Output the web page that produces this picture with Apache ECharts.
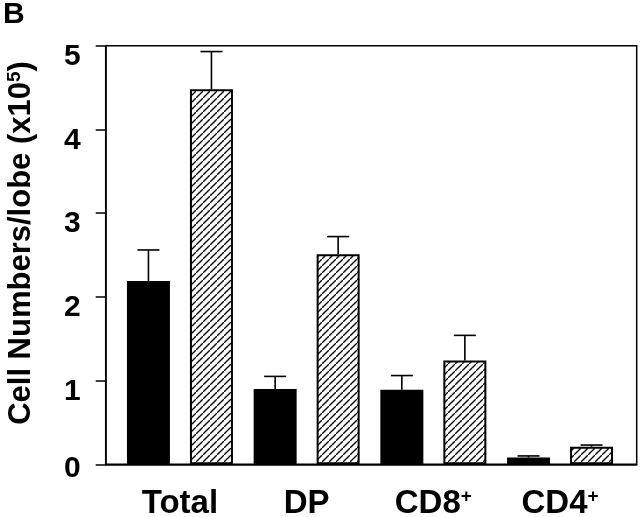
<!DOCTYPE html>
<html><head><meta charset="utf-8">
<script src="https://cdn.jsdelivr.net/npm/echarts@6/dist/echarts.min.js"></script>
<style>html,body{margin:0;padding:0;background:#fff}#c{width:640px;height:517px}</style>
</head><body><div id="c"></div>
<script>
const categories = ['Total', 'DP', 'CD8{sup|+}', 'CD4{sup|+}'];
const catPos = [0, 1, 2, 3];
const blackMean = [2.19, 0.90, 0.89, 0.08];
const blackErr = [0.37, 0.15, 0.17, 0.02];
const hatchMean = [4.48, 2.51, 1.24, 0.21];
const hatchErr = [0.45, 0.21, 0.30, 0.02];
const yTicks = [0, 1, 2, 3, 4, 5];

const BAR_W = 43, GAP = 20, CAP = 22;
const FONT = '"Liberation Sans", Arial, Helvetica, sans-serif';

function makeHatch() {
  const s = 7;
  const c = document.createElement('canvas');
  c.width = s; c.height = s;
  const g = c.getContext('2d');
  g.fillStyle = '#fff'; g.fillRect(0, 0, s, s);
  g.strokeStyle = '#000'; g.lineWidth = 1.3;
  g.beginPath();
  g.moveTo(-1, s + 1); g.lineTo(s + 1, -1);
  g.stroke();
  return c;
}

const chart = echarts.init(document.getElementById('c'), null, {renderer: 'canvas'});

function errItem(offsetSign) {
  return function (params, api) {
    const x = api.value(0), m = api.value(1), e = api.value(2);
    const base = api.coord([x, m]);
    const top = api.coord([x, m + e]);
    const cx = base[0] + offsetSign * (BAR_W + GAP) / 2;
    const st = {stroke: '#000', lineWidth: 1.6};
    return {
      type: 'group',
      children: [
        {type: 'line', shape: {x1: cx, y1: base[1], x2: cx, y2: top[1]}, style: st},
        {type: 'line', shape: {x1: cx - CAP / 2, y1: top[1], x2: cx + CAP / 2, y2: top[1]}, style: st}
      ]
    };
  };
}

const labelStyle = {fontFamily: FONT, fontWeight: 'bold', fontSize: 30, color: '#000'};

chart.setOption({
  animation: false,
  backgroundColor: '#fff',
  title: {text: 'B', left: 3, top: 0, padding: 0, textStyle: {fontFamily: FONT, fontWeight: 'bold', fontSize: 30, color: '#000'}},
  grid: {left: 105.7, top: 45.7, right: 3.3, bottom: 52.7, outerBoundsMode: 'none', containLabel: false,
         show: true, borderColor: '#000', borderWidth: 1.5, backgroundColor: 'transparent'},
  xAxis: {
    type: 'value', min: -0.586, max: 3.605,
    splitLine: {show: false},
    axisLine: {show: true, onZero: false, lineStyle: {color: '#000', width: 1.5}},
    axisTick: {show: false},
    axisLabel: {
      customValues: catPos,
      formatter: v => categories[Math.round(v)],
      margin: 23, color: '#000', fontFamily: FONT, fontWeight: 'bold', fontSize: 33,
      rich: {sup: {fontFamily: FONT, fontWeight: 'bold', fontSize: 19, color: '#000', padding: [0, 0, 14, 0]}}
    }
  },
  yAxis: {
    type: 'value', min: 0, max: 5, interval: 1,
    splitLine: {show: false},
    axisLine: {show: true, onZero: false, lineStyle: {color: '#000', width: 1.5}},
    axisTick: {show: true, inside: false, length: 10, lineStyle: {color: '#000', width: 1.5}},
    axisLabel: {
      formatter: v => (v === 0 ? '{z|' + v + '}' : '{n|' + v + '}'),
      margin: 25, verticalAlign: 'middle',
      rich: {
        n: Object.assign({padding: [22, 0, 0, 0]}, labelStyle),
        z: Object.assign({padding: [8, 0, 0, 0]}, labelStyle)
      }
    },
    name: 'Cell Numbers/lobe (x10{sup|5})',
    nameLocation: 'middle', nameGap: 68, nameRotate: 90,
    nameTextStyle: {
      color: '#000', fontFamily: FONT, fontWeight: 'bold', fontSize: 31,
      padding: [0, 0, 0, 24],
      rich: {sup: {fontFamily: FONT, fontWeight: 'bold', fontSize: 19, color: '#000', padding: [0, 0, 13, 0]}}
    }
  },
  series: [
    {
      type: 'bar', name: 'black', barWidth: BAR_W, barGap: (GAP / BAR_W * 100) + '%',
      data: catPos.map((x, i) => [x, blackMean[i]]),
      itemStyle: {color: '#000', borderColor: '#000', borderWidth: 0},
      z: 2
    },
    {
      type: 'bar', name: 'hatch', barWidth: BAR_W,
      data: catPos.map((x, i) => [x, hatchMean[i]]),
      itemStyle: {color: {image: makeHatch(), repeat: 'repeat'}, borderColor: '#000', borderWidth: 2},
      z: 2
    },
    {
      type: 'custom', renderItem: errItem(-1), z: 3,
      data: catPos.map((x, i) => [x, blackMean[i], blackErr[i]])
    },
    {
      type: 'custom', renderItem: errItem(1), z: 3,
      data: catPos.map((x, i) => [x, hatchMean[i], hatchErr[i]])
    }
  ]
});
</script>
</body></html>
